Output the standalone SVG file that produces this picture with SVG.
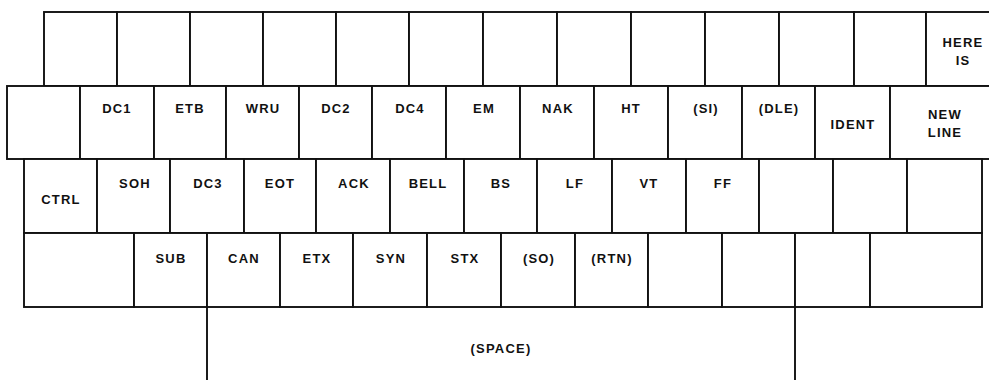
<svg xmlns="http://www.w3.org/2000/svg" width="989" height="380" viewBox="0 0 989 380">
<style>
.k{fill:#fff;stroke:#111;stroke-width:1.9}
.l{fill:none;stroke:#111;stroke-width:1.9}
text{font-family:"Liberation Sans",Arial,sans-serif;font-weight:bold;font-size:13px;letter-spacing:1.2px;text-anchor:middle;fill:#111}
</style>
<rect width="989" height="380" fill="#fff"/>
<g id="row1">
<g id="k1-1"><rect class="k" x="44" y="12" width="73" height="74"/></g>
<g id="k1-2"><rect class="k" x="117" y="12" width="73" height="74"/></g>
<g id="k1-3"><rect class="k" x="190" y="12" width="73" height="74"/></g>
<g id="k1-4"><rect class="k" x="263" y="12" width="73" height="74"/></g>
<g id="k1-5"><rect class="k" x="336" y="12" width="73" height="74"/></g>
<g id="k1-6"><rect class="k" x="409" y="12" width="74" height="74"/></g>
<g id="k1-7"><rect class="k" x="483" y="12" width="74" height="74"/></g>
<g id="k1-8"><rect class="k" x="557" y="12" width="74" height="74"/></g>
<g id="k1-9"><rect class="k" x="631" y="12" width="74" height="74"/></g>
<g id="k1-10"><rect class="k" x="705" y="12" width="74" height="74"/></g>
<g id="k1-11"><rect class="k" x="779" y="12" width="75" height="74"/></g>
<g id="k1-12"><rect class="k" x="854" y="12" width="72" height="74"/></g>
<g id="k-herei"><rect class="k" x="926" y="12" width="74" height="74"/><text x="963" y="47">HERE</text><text x="963" y="65">IS</text></g>
</g>
<g id="row2">
<g id="k2-1"><rect class="k" x="7" y="86" width="73" height="73"/></g>
<g id="k-dc1"><rect class="k" x="80" y="86" width="74" height="73"/><text x="117" y="113">DC1</text></g>
<g id="k-etb"><rect class="k" x="154" y="86" width="72" height="73"/><text x="190" y="113">ETB</text></g>
<g id="k-wru"><rect class="k" x="226" y="86" width="73" height="73"/><text x="263" y="113">WRU</text></g>
<g id="k-dc2"><rect class="k" x="299" y="86" width="73" height="73"/><text x="336" y="113">DC2</text></g>
<g id="k-dc4"><rect class="k" x="372" y="86" width="74" height="73"/><text x="410" y="113">DC4</text></g>
<g id="k-em"><rect class="k" x="446" y="86" width="74" height="73"/><text x="484" y="113">EM</text></g>
<g id="k-nak"><rect class="k" x="520" y="86" width="74" height="73"/><text x="558" y="113">NAK</text></g>
<g id="k-ht"><rect class="k" x="594" y="86" width="74" height="73"/><text x="631" y="113">HT</text></g>
<g id="k-si"><rect class="k" x="668" y="86" width="74" height="73"/><text x="706" y="113">(SI)</text></g>
<g id="k-dle"><rect class="k" x="742" y="86" width="73" height="73"/><text x="779" y="113">(DLE)</text></g>
<g id="k-ident"><rect class="k" x="815" y="86" width="75" height="73"/><text x="853" y="129">IDENT</text></g>
<g id="k-newline"><rect class="k" x="890" y="86" width="110" height="73"/><text x="945" y="119">NEW</text><text x="945" y="137">LINE</text></g>
</g>
<g id="row3">
<g id="k-ctrl"><rect class="k" x="24" y="159" width="73" height="74"/><text x="61" y="204">CTRL</text></g>
<g id="k-soh"><rect class="k" x="97" y="159" width="73" height="74"/><text x="135" y="188">SOH</text></g>
<g id="k-dc3"><rect class="k" x="170" y="159" width="74" height="74"/><text x="208" y="188">DC3</text></g>
<g id="k-eot"><rect class="k" x="244" y="159" width="72" height="74"/><text x="280" y="188">EOT</text></g>
<g id="k-ack"><rect class="k" x="316" y="159" width="74" height="74"/><text x="354" y="188">ACK</text></g>
<g id="k-bell"><rect class="k" x="390" y="159" width="74" height="74"/><text x="428" y="188">BELL</text></g>
<g id="k-bs"><rect class="k" x="464" y="159" width="73" height="74"/><text x="501" y="188">BS</text></g>
<g id="k-lf"><rect class="k" x="537" y="159" width="75" height="74"/><text x="575" y="188">LF</text></g>
<g id="k-vt"><rect class="k" x="612" y="159" width="74" height="74"/><text x="649" y="188">VT</text></g>
<g id="k-ff"><rect class="k" x="686" y="159" width="73" height="74"/><text x="723" y="188">FF</text></g>
<g id="k3-11"><rect class="k" x="759" y="159" width="74" height="74"/></g>
<g id="k3-12"><rect class="k" x="833" y="159" width="74" height="74"/></g>
<g id="k3-13"><rect class="k" x="907" y="159" width="75" height="74"/></g>
</g>
<g id="row4">
<g id="k4-1"><rect class="k" x="24" y="233" width="110" height="74"/></g>
<g id="k-sub"><rect class="k" x="134" y="233" width="73" height="74"/><text x="171" y="263">SUB</text></g>
<g id="k-can"><rect class="k" x="207" y="233" width="73" height="74"/><text x="244" y="263">CAN</text></g>
<g id="k-etx"><rect class="k" x="280" y="233" width="73" height="74"/><text x="317" y="263">ETX</text></g>
<g id="k-syn"><rect class="k" x="353" y="233" width="74" height="74"/><text x="391" y="263">SYN</text></g>
<g id="k-stx"><rect class="k" x="427" y="233" width="74" height="74"/><text x="465" y="263">STX</text></g>
<g id="k-so"><rect class="k" x="501" y="233" width="74" height="74"/><text x="539" y="263">(SO)</text></g>
<g id="k-rtn"><rect class="k" x="575" y="233" width="73" height="74"/><text x="612" y="263">(RTN)</text></g>
<g id="k4-9"><rect class="k" x="648" y="233" width="74" height="74"/></g>
<g id="k4-10"><rect class="k" x="722" y="233" width="73" height="74"/></g>
<g id="k4-11"><rect class="k" x="795" y="233" width="75" height="74"/></g>
<g id="k4-12"><rect class="k" x="870" y="233" width="112" height="74"/></g>
</g>
<g id="k-space">
<path class="l" d="M207 307V380M795 307V380"/>
<text x="501" y="353">(SPACE)</text>
</g>
<g id="connectors"></g>
</svg>
